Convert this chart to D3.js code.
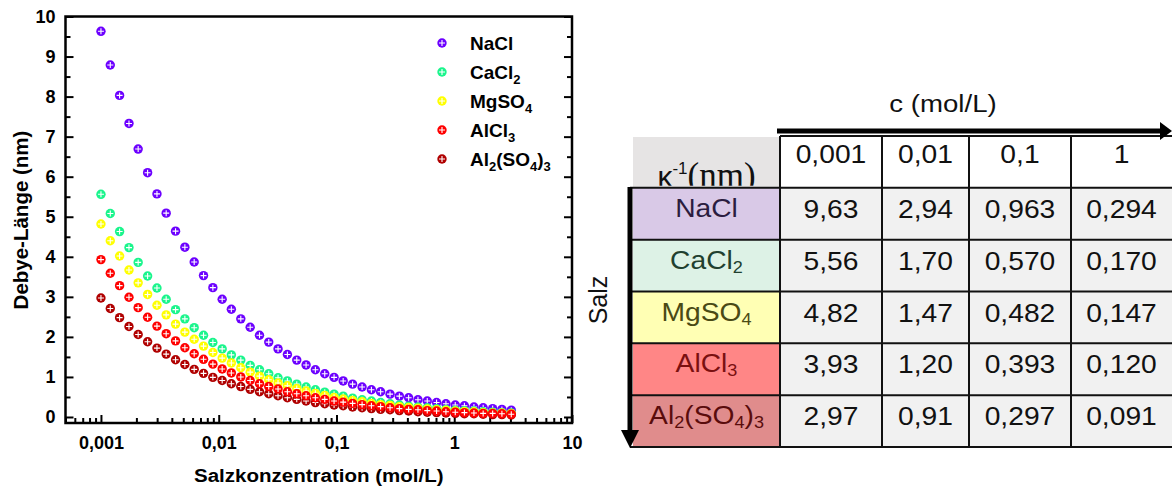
<!DOCTYPE html>
<html>
<head>
<meta charset="utf-8">
<script src="https://cdn.jsdelivr.net/npm/d3@7"></script>
<style>
  body { margin: 0; background: #fff; }
  svg { display: block; font-family: Arial, "Liberation Sans", sans-serif; }
</style>
</head>
<body>
<svg id="viz" width="1172" height="488"></svg>
<script>
// 1. Data: salt concentration (mol/L) and Debye length (nm)

const concentrations = [0.001, 0.0012, 0.00144, 0.00173, 0.00207, 0.00249, 0.00299, 0.00358, 0.0043, 0.00516,
  0.00619, 0.00743, 0.00892, 0.0107, 0.0128, 0.0154, 0.0185, 0.0222, 0.0266, 0.0319,
  0.0383, 0.046, 0.0552, 0.0662, 0.0795, 0.0954, 0.114, 0.137, 0.165, 0.198,
  0.237, 0.285, 0.342, 0.41, 0.492, 0.59, 0.708, 0.85, 1.02, 1.22,
  1.47, 1.76, 2.12, 2.54, 3.05];

const naclValues = [9.63, 8.79, 8.03, 7.33, 6.69, 6.10, 5.57, 5.09, 4.64, 4.24,
  3.87, 3.53, 3.23, 2.94, 2.69, 2.45, 2.24, 2.04, 1.87, 1.70,
  1.56, 1.42, 1.30, 1.18, 1.08, 0.99, 0.90, 0.82, 0.75, 0.68,
  0.63, 0.57, 0.52, 0.48, 0.43, 0.40, 0.36, 0.33, 0.30, 0.28,
  0.25, 0.23, 0.21, 0.19, 0.17];

const cacl2Values = [5.56, 5.08, 4.63, 4.23, 3.86, 3.52, 3.22, 2.94, 2.68, 2.45,
  2.23, 2.04, 1.86, 1.70, 1.55, 1.42, 1.29, 1.18, 1.08, 0.98,
  0.90, 0.82, 0.75, 0.68, 0.62, 0.57, 0.52, 0.47, 0.43, 0.40,
  0.36, 0.33, 0.30, 0.27, 0.25, 0.23, 0.21, 0.19, 0.17, 0.16,
  0.15, 0.13, 0.12, 0.11, 0.10];

const mgso4Values = [4.82, 4.40, 4.02, 3.67, 3.35, 3.06, 2.79, 2.55, 2.32, 2.12,
  1.94, 1.77, 1.61, 1.47, 1.35, 1.23, 1.12, 1.02, 0.93, 0.85,
  0.78, 0.71, 0.65, 0.59, 0.54, 0.49, 0.45, 0.41, 0.38, 0.34,
  0.31, 0.29, 0.26, 0.24, 0.22, 0.20, 0.18, 0.17, 0.15, 0.14,
  0.13, 0.11, 0.10, 0.10, 0.09];

const alcl3Values = [3.93, 3.59, 3.28, 2.99, 2.73, 2.49, 2.27, 2.08, 1.90, 1.73,
  1.58, 1.44, 1.32, 1.20, 1.10, 1.00, 0.91, 0.83, 0.76, 0.70,
  0.63, 0.58, 0.53, 0.48, 0.44, 0.40, 0.37, 0.34, 0.31, 0.28,
  0.26, 0.23, 0.21, 0.19, 0.18, 0.16, 0.15, 0.13, 0.12, 0.11,
  0.10, 0.09, 0.09, 0.08, 0.07];

const al2so43Values = [2.97, 2.71, 2.48, 2.26, 2.06, 1.88, 1.72, 1.57, 1.43, 1.31,
  1.19, 1.09, 0.99, 0.91, 0.83, 0.76, 0.69, 0.63, 0.58, 0.53,
  0.48, 0.44, 0.40, 0.36, 0.33, 0.30, 0.28, 0.25, 0.23, 0.21,
  0.19, 0.18, 0.16, 0.15, 0.13, 0.12, 0.11, 0.10, 0.09, 0.08,
  0.08, 0.07, 0.06, 0.06, 0.05];

// "_2" means subscript 2
const saltNames = ["NaCl", "CaCl_2", "MgSO_4", "AlCl_3", "Al_2(SO_4)_3"];
const saltColors = ["#6c00ff", "#1af58c", "#ffff00", "#ff0000", "#b00000"];
// AlCl3 ends up on top of Al2(SO4)3 in the picture
const drawOrder = [0, 1, 2, 4, 3];

const yTicks = [0, 1, 2, 3, 4, 5, 6, 7, 8, 9, 10];
const xTicks = [0.001, 0.01, 0.1, 1, 10];
const xTickLabels = ["0,001", "0,01", "0,1", "1", "10"];

// table on the right
const tableColumns = ["0,001", "0,01", "0,1", "1"];
const naclTable = ["9,63", "2,94", "0,963", "0,294"];
const cacl2Table = ["5,56", "1,70", "0,570", "0,170"];
const mgso4Table = ["4,82", "1,47", "0,482", "0,147"];
const alcl3Table = ["3,93", "1,20", "0,393", "0,120"];
const al2so43Table = ["2,97", "0,91", "0,297", "0,091"];
const cellColors = ["#d9c9e7", "#ddf2e6", "#ffffb4", "#ff8686", "#e08c8c"];
const cellTextColors = ["#2b1d40", "#21402f", "#4a4a14", "#7a1010", "#5a0c0c"];

const allValues = [naclValues, cacl2Values, mgso4Values, alcl3Values, al2so43Values];
const allTable = [naclTable, cacl2Table, mgso4Table, alcl3Table, al2so43Table];

const svg = d3.select("#viz");

// writes "CaCl_2" style names as tspans with subscripts
function formula(textSel, name, subSize, subShift) {
  let shift = 0;
  name.split(/(_\d)/).filter(s => s !== "").forEach(part => {
    const isSub = part[0] === "_";
    const target = isSub ? subShift : 0;
    const t = textSel.append("tspan")
      .attr("dy", target - shift)
      .text(isSub ? part.slice(1) : part);
    if (isSub) t.attr("font-size", subSize);
    shift = target;
  });
}

// 2. Scatter plot

const plot = { left: 65.5, right: 572, top: 16.5, bottom: 423 };

const x = d3.scaleLog().domain([0.0005, 10]).range([plot.left, plot.right]);
const y = d3.scaleLinear().domain([-0.15, 10]).range([plot.bottom, plot.top]);

const minorY = yTicks.slice(0, -1).map(d => d + 0.5);
const minorX = x.ticks().filter(d => Math.abs(Math.log10(d) - Math.round(Math.log10(d))) > 1e-6);

function styleAxis(g) {
  g.select(".domain").remove();
  g.selectAll(".tick line").attr("stroke", "#000").attr("stroke-width", 2);
  g.selectAll(".tick text")
    .attr("fill", "#000")
    .attr("font-size", 18)
    .attr("font-weight", "bold")
    .attr("font-family", "Arial, 'Liberation Sans', sans-serif");
}

svg.append("g").attr("transform", `translate(${plot.left},0)`)
  .call(d3.axisLeft(y).tickValues(yTicks).tickSizeInner(-8).tickSizeOuter(0).tickPadding(10).tickFormat(d3.format("d")))
  .call(styleAxis);
svg.append("g").attr("transform", `translate(${plot.left},0)`)
  .call(d3.axisLeft(y).tickValues(minorY).tickSize(-5).tickFormat(""))
  .call(styleAxis);
svg.append("g").attr("transform", `translate(${plot.right},0)`)
  .call(d3.axisRight(y).tickValues(yTicks).tickSize(-8).tickFormat(""))
  .call(styleAxis);
svg.append("g").attr("transform", `translate(${plot.right},0)`)
  .call(d3.axisRight(y).tickValues(minorY).tickSize(-5).tickFormat(""))
  .call(styleAxis);

svg.append("g").attr("transform", `translate(0,${plot.bottom})`)
  .call(d3.axisBottom(x).tickValues(xTicks).tickSizeInner(-8).tickSizeOuter(0).tickPadding(13)
    .tickFormat((d, i) => xTickLabels[i]))
  .call(styleAxis);
svg.append("g").attr("transform", `translate(0,${plot.bottom})`)
  .call(d3.axisBottom(x).tickValues(minorX).tickSize(-5).tickFormat(""))
  .call(styleAxis);

svg.append("rect")
  .attr("x", plot.left).attr("y", plot.top)
  .attr("width", plot.right - plot.left).attr("height", plot.bottom - plot.top)
  .attr("fill", "none").attr("stroke", "#000").attr("stroke-width", 2.5);

// crossed circle marker
function marker(g, color) {
  g.append("circle").attr("r", 4.7).attr("fill", color);
  g.append("path").attr("d", "M-3,0H3M0,-3V3").attr("stroke", "#fff").attr("stroke-width", 1.1);
}

drawOrder.forEach(s => {
  const pts = concentrations.map((c, i) => [c, allValues[s][i]]);
  svg.append("g").selectAll("g")
    .data(pts)
    .enter()
    .append("g")
    .attr("transform", d => `translate(${x(d[0])},${y(d[1])})`)
    .each(function() { marker(d3.select(this), saltColors[s]); });
});

// legend
saltNames.forEach((name, i) => {
  const ly = 43 + i * 29;
  marker(svg.append("g").attr("transform", `translate(442,${ly})`), saltColors[i]);
  const t = svg.append("text")
    .attr("x", 470).attr("y", ly + 7)
    .attr("font-size", 19).attr("font-weight", "bold").attr("fill", "#000");
  formula(t, name, 13, 5);
});

// axis titles
svg.append("text")
  .attr("transform", "translate(28,220) rotate(-90)")
  .attr("text-anchor", "middle")
  .attr("font-size", 20.5).attr("font-weight", "bold")
  .text("Debye-Länge (nm)");

svg.append("text")
  .attr("transform", `translate(${(plot.left + plot.right) / 2},482) scale(1.08,1)`)
  .attr("text-anchor", "middle")
  .attr("font-size", 19).attr("font-weight", "bold")
  .text("Salzkonzentration (mol/L)");

// 3. Table

const colEdges = [780, 882, 969, 1071, 1172];
const labelLeft = 633;
const rowY = d3.scaleBand().domain(d3.range(6)).range([136, 447]);
const rh = rowY.bandwidth();

function cellText(cx, baseline, color) {
  return svg.append("text")
    .attr("transform", `translate(${cx},${baseline}) scale(1.13,1)`)
    .attr("text-anchor", "middle")
    .attr("font-size", 25)
    .attr("fill", color || "#111");
}

// header row: kappa cell + concentrations
svg.append("rect")
  .attr("x", labelLeft).attr("y", rowY(0) + 1)
  .attr("width", colEdges[0] - labelLeft - 1).attr("height", rh - 1)
  .attr("fill", "#e6e4e4");

svg.append("clipPath").attr("id", "kclip")
  .append("rect")
  .attr("x", labelLeft).attr("y", rowY(0))
  .attr("width", colEdges[0] - labelLeft).attr("height", rh - 2);

const kappa = svg.append("text")
  .attr("clip-path", "url(#kclip)")
  .attr("x", (labelLeft + colEdges[0]) / 2).attr("y", rowY(0) + 51)
  .attr("text-anchor", "middle")
  .attr("fill", "#111");
kappa.append("tspan").attr("font-size", 30).text("κ");
kappa.append("tspan").attr("font-size", 17).attr("dy", -13).text("-1");
kappa.append("tspan").attr("font-size", 35).attr("dy", 13)
  .attr("font-family", "'Liberation Serif', 'DejaVu Serif', serif").text("(nm)");

tableColumns.forEach((c, j) => {
  svg.append("rect")
    .attr("x", colEdges[j]).attr("y", rowY(0))
    .attr("width", colEdges[j + 1] - colEdges[j]).attr("height", rh)
    .attr("fill", "#fff");
  cellText((colEdges[j] + colEdges[j + 1]) / 2, rowY(0) + 27).text(c);
});

// salt rows
saltNames.forEach((name, i) => {
  const top = rowY(i + 1);
  svg.append("rect")
    .attr("x", labelLeft).attr("y", top)
    .attr("width", colEdges[0] - labelLeft).attr("height", rh)
    .attr("fill", cellColors[i]);
  formula(cellText((labelLeft + colEdges[0]) / 2, top + 29, cellTextColors[i]), name, 16, 4);

  allTable[i].forEach((v, j) => {
    svg.append("rect")
      .attr("x", colEdges[j]).attr("y", top)
      .attr("width", colEdges[j + 1] - colEdges[j]).attr("height", rh)
      .attr("fill", "#f1f1f1");
    cellText((colEdges[j] + colEdges[j + 1]) / 2, top + 30).text(v);
  });
});

// grid lines
const grid = svg.append("g").attr("stroke", "#111").attr("stroke-width", 2);
grid.append("line").attr("x1", colEdges[0]).attr("x2", 1172).attr("y1", rowY(0)).attr("y2", rowY(0));
d3.range(1, 7).forEach(r => {
  const yy = r < 6 ? rowY(r) : 447;
  grid.append("line").attr("x1", 630).attr("x2", 1172).attr("y1", yy).attr("y2", yy);
});
colEdges.slice(0, 4).forEach(cx => {
  grid.append("line").attr("x1", cx).attr("x2", cx).attr("y1", rowY(0)).attr("y2", 447);
});

// arrows and captions
svg.append("line").attr("x1", 777).attr("x2", 1163).attr("y1", 131).attr("y2", 131)
  .attr("stroke", "#000").attr("stroke-width", 5);
svg.append("polygon").attr("points", "1160,122 1172,131 1160,140").attr("fill", "#000");

svg.append("line").attr("x1", 630).attr("x2", 630).attr("y1", 187).attr("y2", 432)
  .attr("stroke", "#000").attr("stroke-width", 5);
svg.append("polygon").attr("points", "621,430 639,430 630,448").attr("fill", "#000");

svg.append("text")
  .attr("transform", "translate(943,112) scale(1.15,1)")
  .attr("text-anchor", "middle")
  .attr("font-size", 24).attr("fill", "#111")
  .text("c (mol/L)");

svg.append("text")
  .attr("transform", "translate(607,300) rotate(-90)")
  .attr("text-anchor", "middle")
  .attr("font-size", 25).attr("fill", "#111")
  .text("Salz");
</script>
</body>
</html>
